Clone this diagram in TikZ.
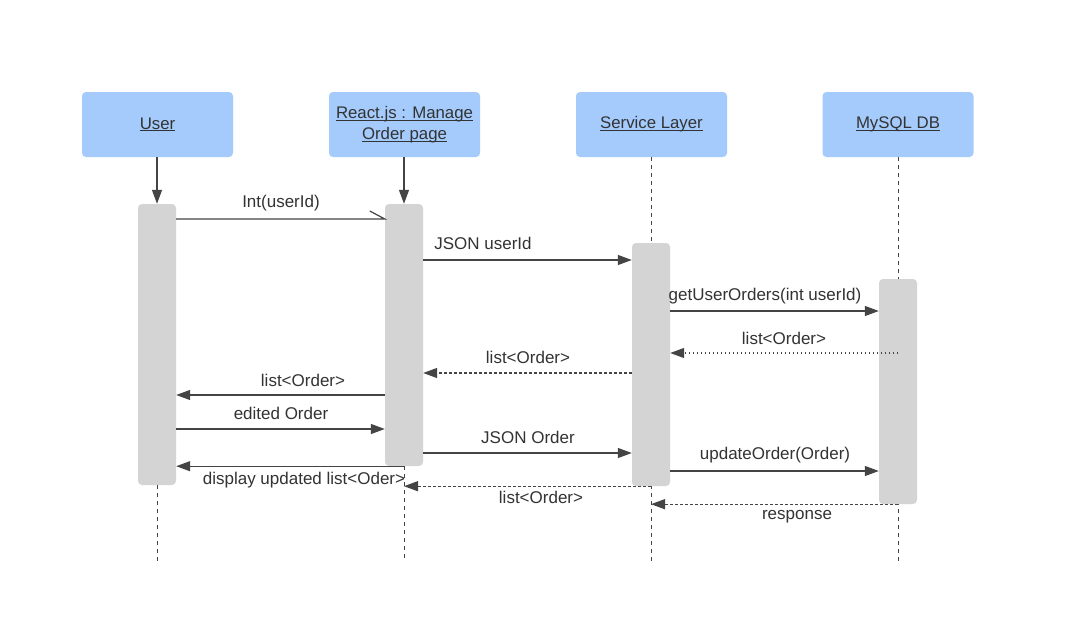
\documentclass[tikz,border=0pt]{standalone}
\usepackage{fontspec}
\setmainfont{Liberation Sans}
\usetikzlibrary{arrows.meta}
\definecolor{hdr}{HTML}{A4CBFC}
\definecolor{barc}{HTML}{D4D4D4}
\definecolor{ink}{HTML}{333333}
\definecolor{ln}{HTML}{444444}
\newcommand{\hul}[1]{\underline{\smash{#1}}\vphantom{#1}}
\begin{document}
\begin{tikzpicture}[x=1pt,y=-1pt,
  hdrbox/.style={fill=hdr, rounded corners=4pt, minimum width=151pt, minimum height=65pt, align=center, text=ink, font=\fontsize{16.8}{20}\selectfont, inner sep=0pt},
  actbar/.style={fill=barc, rounded corners=4pt, minimum width=38pt, inner sep=0pt},
  tip/.style={-{Triangle[length=14pt,width=10pt]}},
  msg/.style={draw=ln, line width=1.2pt, tip},
  retdash/.style={msg, dash pattern=on 3pt off 2pt},
  retdot/.style={msg, dash pattern=on 1pt off 3pt},
  life/.style={draw=ln, line width=0.9pt, dash pattern=on 4pt off 4pt},
  lbl/.style={text=ink, font=\fontsize{17}{20}\selectfont, inner sep=0pt}]
\useasboundingbox (0,0) rectangle (1079,634);
\fill[white] (0,0) rectangle (1079,634);
% headers
\node[hdrbox] (user) at (157.5,124.5) {\hul{User}};
\node[hdrbox] (react) at (404.5,124.5) {\hul{React.js : Manage}\\[1pt]\hul{Order page}};
\node[hdrbox] (svc) at (651.5,124.5) {\hul{Service Layer}};
\node[hdrbox] (db) at (898,124.5) {\hul{MySQL DB}};
% end coordinates of lifelines
\coordinate (uend) at (157,562);
\coordinate (rend) at (404,562);
\coordinate (send) at (651,562);
\coordinate (dend) at (898,562);
% dashed lifelines behind bars
\draw[life] (svc.south -| send) -- (send);
\draw[life] (db.south -| dend) -- (dend);
% bars
\node[actbar, minimum height=281pt] (ubar) at (157,344.5) {};
\node[actbar, minimum height=262pt] (rbar) at (404,335) {};
\node[actbar, minimum height=243pt] (sbar) at (651,364.5) {};
\node[actbar, minimum height=225pt] (dbar) at (898,391.5) {};
\draw[life] (ubar.south) -- (uend);
\draw[life] (rbar.south) -- (rend);
% creation arrows
\draw[msg] (user.south -| ubar.north) -- (ubar.north);
\draw[msg] (react.south -| rbar.north) -- (rbar.north);
% messages
\draw[draw=ln, line width=1.2pt] (ubar.east |- 0,219) -- (rbar.west |- 0,219) -- ++(-15,-8);
\node[lbl] (l1) at (281,203) {Int(userId)};
\draw[msg] (rbar.east |- 0,260) -- (sbar.west |- 0,260);
\node[lbl] (l2) at (483,243) {JSON userId};
\draw[msg] (sbar.east |- 0,311) -- (dbar.west |- 0,311);
\node[lbl] (l3) at (765,296) {getUserOrders(int userId)};
\draw[retdot] (dbar.center |- 0,353) -- (sbar.east |- 0,353);
\node[lbl] (l4) at (784,338) {list<Order>};
\draw[retdash] (sbar.west |- 0,373) -- (rbar.east |- 0,373);
\node[lbl] (l5) at (528,357) {list<Order>};
\draw[msg] (rbar.west |- 0,395) -- (ubar.east |- 0,395);
\node[lbl] (l6) at (303,380) {list<Order>};
\draw[msg] (ubar.east |- 0,429) -- (rbar.west |- 0,429);
\node[lbl] (l7) at (281,413) {edited Order};
\draw[msg] (rbar.east |- 0,453) -- (sbar.west |- 0,453);
\node[lbl] (l8) at (528,437) {JSON Order};
\draw[msg] (sbar.east |- 0,471) -- (dbar.west |- 0,471);
\node[lbl] (l9) at (775,455) {updateOrder(Order)};
\draw[msg] (rbar.south) -- (ubar.east |- rbar.south);
\node[lbl] (l10) at (304,480) {display updated list<Oder>};
\draw[retdash] (sbar.south) -- (rbar.center |- sbar.south);
\node[lbl] (l11) at (541,497) {list<Order>};
\draw[retdash] (dbar.south) -- (sbar.center |- dbar.south);
\node[lbl] (l12) at (797,517) {response};
\end{tikzpicture}
\end{document}
